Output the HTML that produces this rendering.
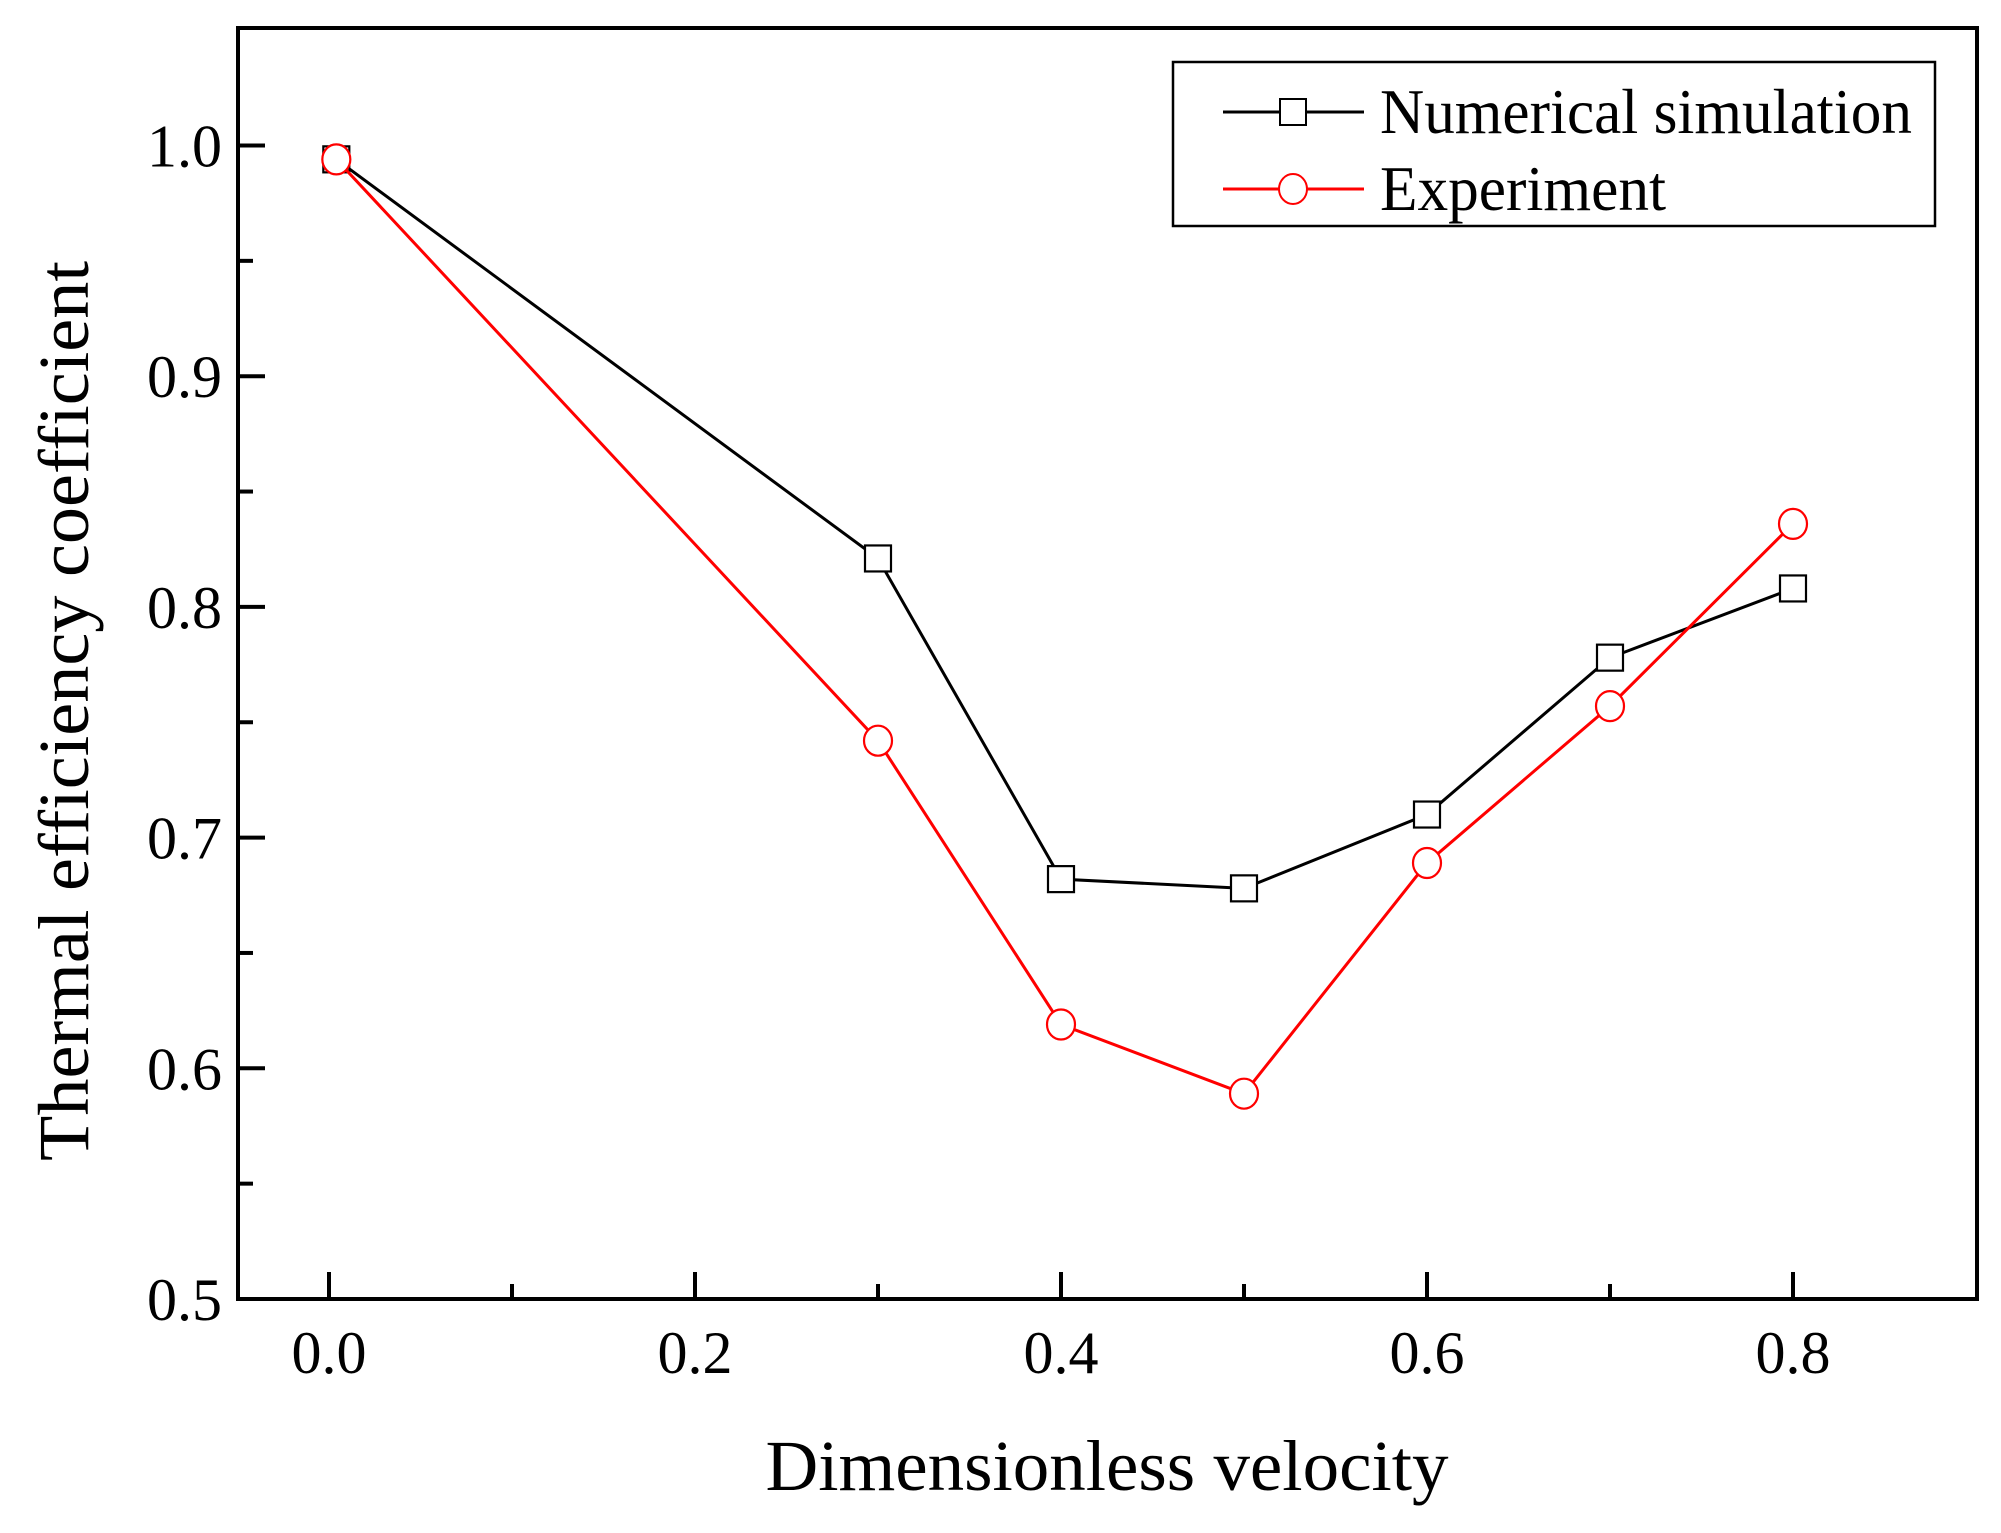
<!DOCTYPE html>
<html><head><meta charset="utf-8"><style>
html,body{margin:0;padding:0;background:#fff;}
svg{display:block;font-family:"Liberation Serif",serif;}
</style></head><body>
<svg id="chart" width="2001" height="1533" viewBox="0 0 2001 1533">
<rect x="0" y="0" width="2001" height="1533" fill="#fff"/>
<g id="axes"></g>
<g id="series"></g>
<g>
 <rect x="1173" y="62" width="762" height="164" fill="#fff" stroke="#000" stroke-width="2.5"/>
 <g>
  <line x1="1223" y1="112" x2="1364" y2="112" stroke="#000" stroke-width="3"/>
  <rect x="1280" y="99" width="26" height="26" fill="#fff" stroke="#000" stroke-width="2"/>
  <text x="1380" y="133" font-size="64" textLength="532" lengthAdjust="spacingAndGlyphs">Numerical simulation</text>
 </g>
 <g>
  <line x1="1223" y1="189" x2="1364" y2="189" stroke="#f00" stroke-width="3"/>
  <ellipse cx="1293" cy="189" rx="14" ry="15" fill="#fff" stroke="#f00" stroke-width="2"/>
  <text x="1380" y="210" font-size="64" textLength="286" lengthAdjust="spacingAndGlyphs">Experiment</text>
 </g>
</g>
<text x="1107" y="1490" font-size="72" text-anchor="middle" textLength="683" lengthAdjust="spacingAndGlyphs">Dimensionless velocity</text>
<text transform="translate(88,711) rotate(-90)" font-size="72" text-anchor="middle" textLength="900" lengthAdjust="spacingAndGlyphs">Thermal efficiency coefficient</text>
</svg>
<script>
const xTicks = [0.0, 0.2, 0.4, 0.6, 0.8];
const xTickLabels = ["0.0", "0.2", "0.4", "0.6", "0.8"];
const yTicks = [0.5, 0.6, 0.7, 0.8, 0.9, 1.0];
const yTickLabels = ["0.5", "0.6", "0.7", "0.8", "0.9", "1.0"];
const xValues = [0.004, 0.3, 0.4, 0.5, 0.6, 0.7, 0.8];
const numericalValues = [0.994, 0.821, 0.682, 0.678, 0.710, 0.778, 0.808];
const experimentValues = [0.994, 0.742, 0.619, 0.589, 0.689, 0.757, 0.836];

const NS = "http://www.w3.org/2000/svg";
const L = 238, R = 1977, T = 28, B = 1299;
function xs(v){ return 329 + (v - 0) * (1793 - 329) / 0.8; }
function ys(v){ return 1299 - (v - 0.5) * (1299 - 145.5) / 0.5; }
function mk(tag, attrs, parent){
  const e = document.createElementNS(NS, tag);
  for (const k in attrs) e.setAttribute(k, attrs[k]);
  parent.appendChild(e);
  return e;
}
const axes = document.getElementById('axes');
const frame = mk('rect', {x:L, y:T, width:R-L, height:B-T, fill:'none', stroke:'#000', 'stroke-width':4}, axes);


for (let i = 0; i < xTicks.length; i++) {
  const x = xs(xTicks[i]);
  const t = mk('line', {x1:x, y1:B, x2:x, y2:B-27, stroke:'#000', 'stroke-width':4}, axes);
  
  
  const lb = mk('text', {x:x, y:B+74, 'font-size':60, 'text-anchor':'middle'}, axes);
  lb.textContent = xTickLabels[i];
  
  
  if (i < xTicks.length - 1) {
    const xm = xs((xTicks[i] + xTicks[i+1]) / 2);
    const m = mk('line', {x1:xm, y1:B, x2:xm, y2:B-15, stroke:'#000', 'stroke-width':4}, axes);
    
    
  }
}
for (let i = 0; i < yTicks.length; i++) {
  const y = ys(yTicks[i]);
  const t = mk('line', {x1:L, y1:y, x2:L+27, y2:y, stroke:'#000', 'stroke-width':4}, axes);
  
  
  const lb = mk('text', {x:L-16, y:y+21, 'font-size':60, 'text-anchor':'end'}, axes);
  lb.textContent = yTickLabels[i];
  
  
  const ym = ys(yTicks[i] + 0.05);
  if (ym > T + 5) {
    const m = mk('line', {x1:L, y1:ym, x2:L+15, y2:ym, stroke:'#000', 'stroke-width':4}, axes);
    
    
  }
}
const series = document.getElementById('series');
function drawSeries(vals, color, shape, name){
  const g = mk('g', {}, series);
  
  
  const pts = vals.map((v, i) => xs(xValues[i]) + ',' + ys(v)).join(' ');
  const pl = mk('polyline', {points:pts, fill:'none', stroke:color, 'stroke-width':3}, g);
  
  
  vals.forEach((v, i) => {
    const cx = xs(xValues[i]), cy = ys(v);
    let m;
    if (shape === 'square') m = mk('rect', {x:cx-13, y:cy-13, width:26, height:26, fill:'#fff', stroke:color, 'stroke-width':2.2}, g);
    else m = mk('ellipse', {cx:cx, cy:cy, rx:14, ry:15, fill:'#fff', stroke:color, 'stroke-width':2.2}, g);
    
    
  });
}
drawSeries(numericalValues, '#000', 'square', 'numerical');
drawSeries(experimentValues, '#f00', 'circle', 'experiment');
</script>
</body></html>
